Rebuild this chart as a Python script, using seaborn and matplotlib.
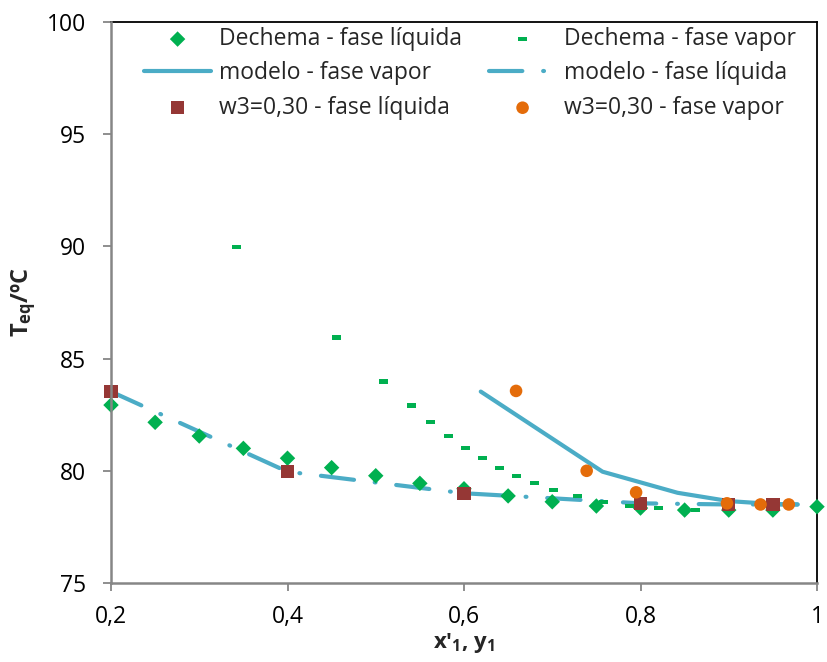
import numpy as np
import matplotlib
matplotlib.use("Agg")
import matplotlib.pyplot as plt
from matplotlib.ticker import FixedLocator, FuncFormatter
import seaborn as sns

# Dechema reference data
dechema_liq_x = [0.20, 0.25, 0.30, 0.35, 0.40, 0.45, 0.50, 0.55, 0.60, 0.65, 0.70, 0.75, 0.80, 0.85, 0.90, 0.95, 1.00]
dechema_liq_T = [82.93, 82.16, 81.55, 81.00, 80.56, 80.14, 79.78, 79.44, 79.20, 78.88, 78.62, 78.43, 78.34, 78.25, 78.25, 78.25, 78.40]
dechema_vap_y = [0.342, 0.456, 0.509, 0.540, 0.562, 0.583, 0.602, 0.621, 0.640, 0.660, 0.680, 0.701, 0.729, 0.758, 0.787, 0.820, 0.862]
dechema_vap_T = [89.98, 85.95, 83.97, 82.92, 82.17, 81.55, 81.02, 80.57, 80.12, 79.77, 79.46, 79.14, 78.88, 78.61, 78.43, 78.34, 78.25]

# Model curves
model_vap_y = [0.619, 0.757, 0.842, 0.900, 0.950, 0.978]
model_vap_T = [83.53, 79.96, 79.02, 78.65, 78.52, 78.50]
model_liq_x = [0.20, 0.40, 0.60, 0.80, 0.90, 0.978]
model_liq_T = [83.53, 79.96, 79.00, 78.55, 78.50, 78.50]

# Experimental points, w3 = 0,30
w3_liq_x = [0.20, 0.40, 0.60, 0.80, 0.90, 0.95]
w3_liq_T = [83.53, 79.96, 79.00, 78.55, 78.50, 78.50]
w3_vap_y = [0.659, 0.739, 0.795, 0.898, 0.936, 0.968]
w3_vap_T = [83.56, 80.00, 79.04, 78.55, 78.50, 78.50]

x_ticks = [0.2, 0.4, 0.6, 0.8, 1.0]
y_ticks = [75, 80, 85, 90, 95, 100]

GREEN = "#00B050"
BLUE = "#4BACC6"
BROWN = "#953735"
ORANGE = "#E46C0A"
GREY = "#868686"

sns.set_style("white")
plt.rcParams["font.family"] = ["Open Sans", "DejaVu Sans"]
plt.rcParams["mathtext.fontset"] = "custom"
plt.rcParams["mathtext.rm"] = "Open Sans"
plt.rcParams["mathtext.bf"] = "Open Sans:bold"

fig = plt.figure(figsize=(8.27, 6.62), dpi=100)
ax = fig.add_axes([111 / 827, 1 - 583 / 662, 706 / 827, 561 / 662])

dash_marker = [(-1, -0.5), (1, -0.5), (1, 0.5), (-1, 0.5), (-1, -0.5)]

sns.scatterplot(x=dechema_liq_x, y=dechema_liq_T, marker="D", s=62, color=GREEN,
                edgecolor="none", label="Dechema - fase líquida", ax=ax, zorder=3, clip_on=False)
sns.scatterplot(x=dechema_vap_y, y=dechema_vap_T, marker=dash_marker, s=42, color=GREEN,
                edgecolor="none", label="Dechema - fase vapor", ax=ax, zorder=3, clip_on=False)
sns.lineplot(x=model_vap_y, y=model_vap_T, color=BLUE, lw=3.0, label="modelo - fase vapor",
             solid_capstyle="round", ax=ax, zorder=2)
sns.lineplot(x=model_liq_x, y=model_liq_T, color=BLUE, lw=3.0, label="modelo - fase líquida",
             linestyle=(0, (8, 5, 0.2, 5)), dash_capstyle="round", ax=ax, zorder=2)
sns.scatterplot(x=w3_liq_x, y=w3_liq_T, marker="s", s=92, color=BROWN,
                edgecolor="none", label="w3=0,30 - fase líquida", ax=ax, zorder=4, clip_on=False)
sns.scatterplot(x=w3_vap_y, y=w3_vap_T, marker="o", s=82, color=ORANGE,
                edgecolor="none", label="w3=0,30 - fase vapor", ax=ax, zorder=5, clip_on=False)

ax.set_xlim(0.2, 1.0)
ax.set_ylim(75, 100)
ax.xaxis.set_major_locator(FixedLocator(x_ticks))
ax.yaxis.set_major_locator(FixedLocator(y_ticks))
ax.xaxis.set_major_formatter(FuncFormatter(lambda v, p: f"{v:g}".replace(".", ",")))
ax.yaxis.set_major_formatter(FuncFormatter(lambda v, p: f"{v:g}"))

for side in ("top", "right"):
    ax.spines[side].set_color("black")
    ax.spines[side].set_linewidth(1.3)
for side in ("left", "bottom"):
    ax.spines[side].set_color(GREY)
    ax.spines[side].set_linewidth(1.8)
    ax.spines[side].set_zorder(6)

ax.tick_params(axis="both", which="major", direction="out", length=6, width=1.3,
               color=GREY, labelsize=16.5, labelcolor="black")
ax.tick_params(axis="y", pad=12, left=True)
ax.tick_params(axis="x", pad=10, bottom=True)

ax.set_ylabel(r"$\mathbf{T_{eq}}$/ºC", fontsize=17, fontweight="bold", labelpad=6)
ax.set_xlabel(r"x'$_\mathbf{1}$, y$_\mathbf{1}$", fontsize=16, fontweight="bold", labelpad=1)

handles, labels = ax.get_legend_handles_labels()
order = [0, 2, 4, 1, 3, 5]
ax.legend([handles[i] for i in order], [labels[i] for i in order], ncol=2,
          loc="upper left", bbox_to_anchor=(0.044, 0.995), frameon=False,
          fontsize=16.5, handlelength=2.9, handletextpad=0.35, columnspacing=1.2,
          labelspacing=0.45, borderpad=0.1, borderaxespad=0, scatterpoints=1)

fig.savefig("out.png", dpi=100)
